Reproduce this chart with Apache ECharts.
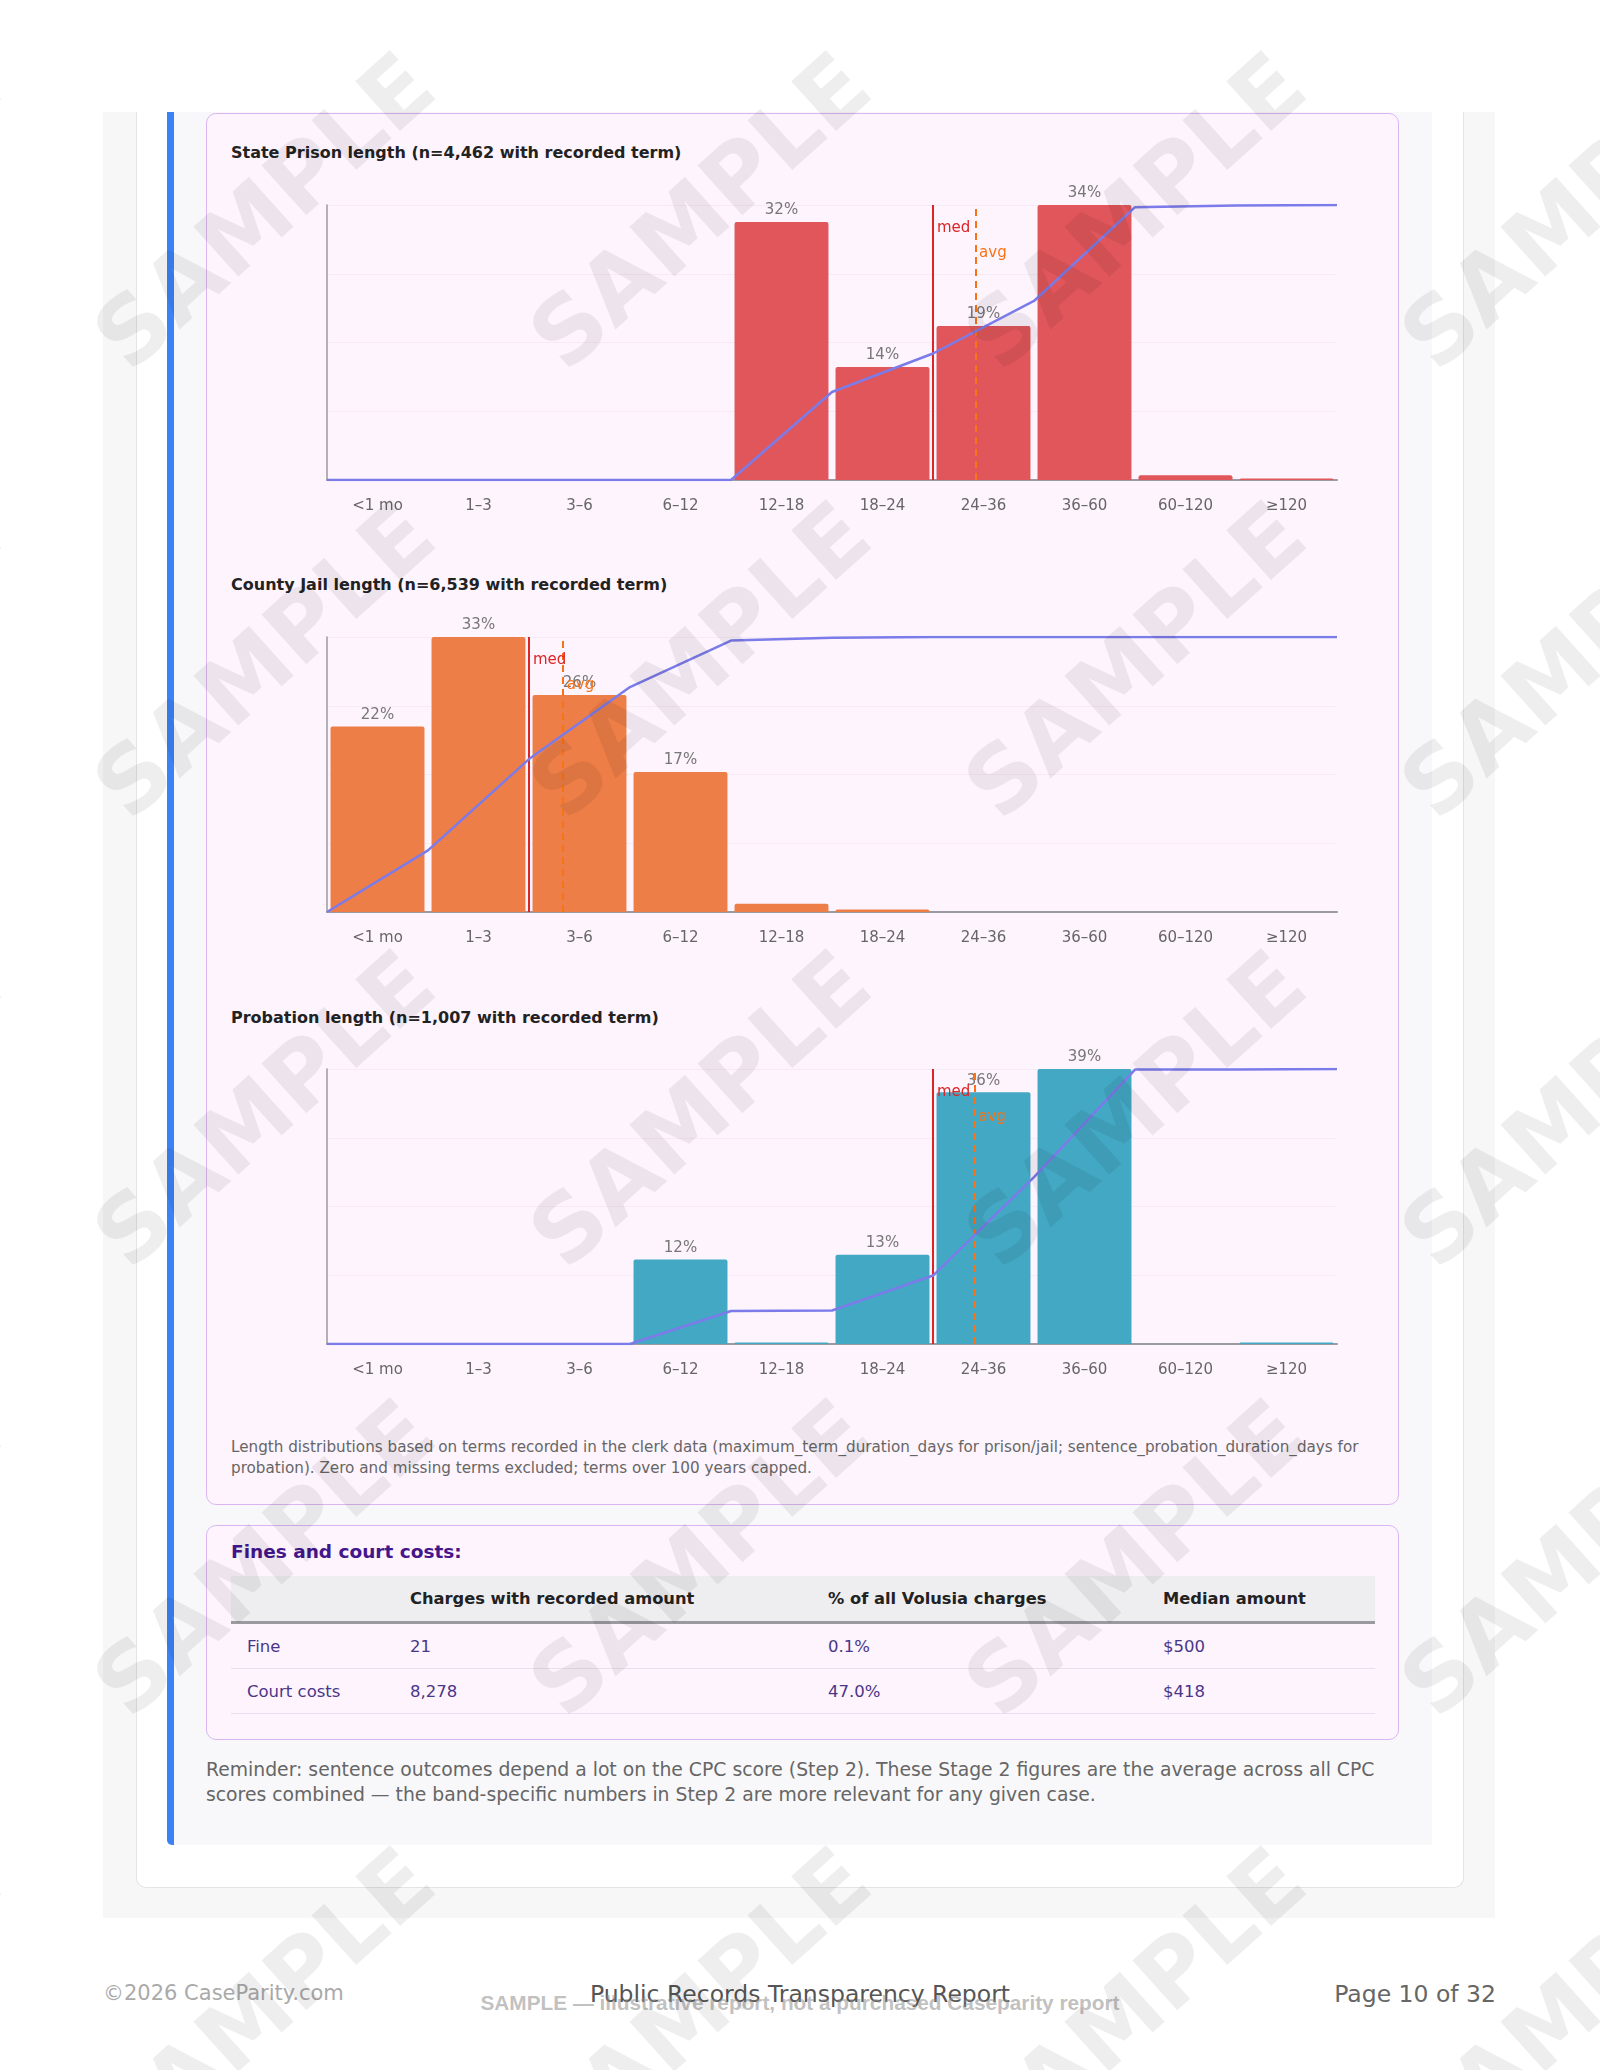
<!DOCTYPE html>
<html>
<head>
<meta charset="utf-8">
<script src="https://cdn.jsdelivr.net/npm/echarts@6/dist/echarts.min.js"></script>
<style>
body{margin:0;width:1600px;height:2070px;background:#fff;position:relative;overflow:hidden;font-family:"DejaVu Sans",sans-serif}
.a{position:absolute}
#panel{left:103px;top:112px;width:1392px;height:1806px;background:#f7f7f8}
#card{left:136px;top:112px;width:1326px;height:1775px;background:#fff;border:1px solid #e4e4e6;border-top:none;border-radius:0 0 10px 10px}
#section{left:167px;top:112px;width:1258px;height:1733px;background:#f8f8fa;border-left:7px solid #3b82f6;border-radius:0 0 0 5px}
.box{left:206px;width:1191px;background:#fdf4fd;border:1.5px solid #d9b6f2;border-radius:10px}
.ctitle{left:231px;font-size:16px;font-weight:bold;color:#222;white-space:nowrap}
.chart{left:206px;width:1194px;height:340px}
#note{left:231px;top:1437px;font-size:15.2px;line-height:21px;color:#666;white-space:nowrap}
#finesT{left:231px;top:1541px;font-size:18.5px;font-weight:bold;color:#44168c}
table{border-collapse:collapse;font-size:16.5px;table-layout:fixed}
th{background:#eeeef1;height:45px;padding:0 0 0 16px;text-align:left;font-size:16.3px;color:#222;border-bottom:3px solid #9a9aa0;white-space:nowrap}
td{height:44px;padding:0 0 0 16px;color:#4a3689;border-bottom:1px solid #eadfee}
#remind{left:206px;top:1757px;font-size:18.8px;line-height:25px;color:#666;white-space:nowrap}
.foot{top:1981px;font-size:21px;white-space:nowrap}
#wm{left:0;top:0;width:1600px;height:2070px;overflow:hidden;pointer-events:none;z-index:10}
.w{position:absolute;font-size:92px;font-weight:bold;color:rgba(0,0,0,0.065);transform:translate(-50%,-50%) rotate(-42deg);white-space:nowrap;font-family:"DejaVu Sans",sans-serif}
</style>
</head>
<body>
<div id="panel" class="a"></div>
<div id="card" class="a"></div>
<div id="section" class="a"></div>
<div class="a box" style="top:113px;height:1390px"></div>
<div class="a box" style="top:1525px;height:213px"></div>

<div class="a ctitle" style="top:143px">State Prison length (n=4,462 with recorded term)</div>
<div id="c1" class="a chart" style="top:185px"></div>
<div class="a ctitle" style="top:575px">County Jail length (n=6,539 with recorded term)</div>
<div id="c2" class="a chart" style="top:617px"></div>
<div class="a ctitle" style="top:1008px">Probation length (n=1,007 with recorded term)</div>
<div id="c3" class="a chart" style="top:1049px"></div>

<div id="note" class="a">Length distributions based on terms recorded in the clerk data (maximum_term_duration_days for prison/jail; sentence_probation_duration_days for<br>probation). Zero and missing terms excluded; terms over 100 years capped.</div>

<div id="finesT" class="a">Fines and court costs:</div>
<table id="tbl" class="a" style="left:231px;top:1576px;width:1144px">
<colgroup><col style="width:163px"><col style="width:418px"><col style="width:335px"><col style="width:228px"></colgroup>
<thead><tr id="thead"></tr></thead>
<tbody id="tbody"></tbody>
</table>

<div id="remind" class="a">Reminder: sentence outcomes depend a lot on the CPC score (Step 2). These Stage 2 figures are the average across all CPC<br>scores combined — the band-specific numbers in Step 2 are more relevant for any given case.</div>

<div class="a foot" style="left:103px;color:#aaa">©2026 CaseParity.com</div>
<div class="a foot" style="left:0;width:1600px;text-align:center;top:1980px;font-size:23.5px;color:#555">Public Records Transparency Report</div>
<div class="a foot" style="left:0;width:1600px;text-align:center;top:1991px;font-size:20.8px;font-weight:bold;font-family:'Liberation Sans',Arial,sans-serif;color:rgba(140,140,140,0.55)">SAMPLE — illustrative report, not a purchased Caseparity report</div>
<div class="a foot" style="right:104px;font-size:23.5px;color:#666;top:1980px">Page 10 of 32</div>

<div id="wm" class="a"></div>

<script>
// bins (months)
var cats = ['<1 mo', '1–3', '3–6', '6–12', '12–18', '18–24', '24–36', '36–60', '60–120', '≥120'];
var binEdges = [0, 1, 3, 6, 12, 18, 24, 36, 60, 120, 240];

// % of terms per bin
var prisonPct = [0, 0, 0, 0, 32.0, 14.0, 19.1, 34.1, 0.6, 0.2];
var jailPct = [22.4, 33.2, 26.2, 16.9, 1.0, 0.3, 0, 0, 0, 0];
var probationPct = [0, 0, 0, 12.0, 0.2, 12.7, 35.8, 39.1, 0, 0.2];

// median / average term, months
var prisonMedAvg = [24, 29.0];
var jailMedAvg = [3, 4.0];
var probationMedAvg = [24, 28.9];

// fines table
var tblHead = ['', 'Charges with recorded amount', '% of all Volusia charges', 'Median amount'];
var tblRows = [
  ['Fine', '21', '0.1%', '$500'],
  ['Court costs', '8,278', '47.0%', '$418']
];

document.getElementById('thead').innerHTML = tblHead.map(function (h) { return '<th>' + h + '</th>'; }).join('');
document.getElementById('tbody').innerHTML = tblRows.map(function (r) {
  return '<tr>' + r.map(function (c) { return '<td>' + c + '</td>'; }).join('') + '</tr>';
}).join('');

// months -> position on the bin scale
function toPos(m) {
  for (var i = 0; i < binEdges.length - 1; i++) {
    if (m < binEdges[i + 1]) return i + (m - binEdges[i]) / (binEdges[i + 1] - binEdges[i]);
  }
  return binEdges.length - 1;
}

function drawChart(id, pct, medAvg, color) {
  var cum = [[0, 0]], s = 0;
  for (var i = 0; i < pct.length; i++) { s += pct[i]; cum.push([i + 1, s]); }
  var medPos = toPos(medAvg[0]), avgPos = toPos(medAvg[1]);

  var chart = echarts.init(document.getElementById(id));
  chart.setOption({
    animation: false,
    textStyle: { fontFamily: 'DejaVu Sans' },
    grid: { left: 121, right: 63, top: 20, height: 275 },
    xAxis: [
      {
        type: 'category', data: cats, boundaryGap: true,
        axisLine: { lineStyle: { color: '#9a9aa0', width: 2 } },
        axisTick: { show: false },
        axisLabel: { color: '#666', fontSize: 15, margin: 19 }
      },
      { type: 'value', min: 0, max: 10, show: false }
    ],
    yAxis: [
      {
        type: 'value', min: 0, max: 'dataMax',
        axisLine: { show: true, lineStyle: { color: '#9a9aa0', width: 1.5 } },
        axisLabel: { show: false }, axisTick: { show: false }, splitLine: { show: false }
      },
      {
        type: 'value', min: 0, max: 100, interval: 25,
        axisLine: { show: false }, axisLabel: { show: false }, axisTick: { show: false },
        splitLine: { lineStyle: { color: 'rgba(120,60,140,0.05)', width: 1 } }
      }
    ],
    series: [
      {
        type: 'bar', data: pct, barCategoryGap: '7%',
        itemStyle: { color: color, borderRadius: [2, 2, 0, 0] },
        label: {
          show: true, position: 'top', distance: 4, color: '#777', fontSize: 15,
          formatter: function (p) { return p.value >= 3 ? Math.round(p.value) + '%' : ''; }
        }
      },
      {
        type: 'line', xAxisIndex: 1, yAxisIndex: 1, data: cum, z: 5,
        symbol: 'none', lineStyle: { color: '#7b7be9', width: 2.5 },
        markLine: {
          silent: true, symbol: ['none', 'none'], label: { show: false },
          data: [
            { xAxis: medPos, lineStyle: { color: '#dc2626', width: 2, type: 'solid' } },
            { xAxis: avgPos, lineStyle: { color: '#f97316', width: 2, type: [7, 5] } }
          ]
        },
        markPoint: {
          silent: true, symbol: 'circle', symbolSize: 0,
          data: [
            { coord: [medPos, 91.6], label: { show: true, formatter: 'med', position: 'right', distance: 4, color: '#dc2626', fontSize: 15 } },
            { coord: [avgPos, 82.5], label: { show: true, formatter: 'avg', position: 'right', distance: 4, color: '#f97316', fontSize: 15 } }
          ]
        }
      }
    ]
  });
}

drawChart('c1', prisonPct, prisonMedAvg, '#e0565b');
drawChart('c2', jailPct, jailMedAvg, '#ed7e47');
drawChart('c3', probationPct, probationMedAvg, '#43a8c4');

// watermark
var wm = document.getElementById('wm'), html = '';
var wx = [-170, 264, 700, 1135, 1571], wy = [211, 660, 1109, 1558, 2006];
wy.forEach(function (y) {
  wx.forEach(function (x) { html += '<div class="w" style="left:' + x + 'px;top:' + y + 'px">SAMPLE</div>'; });
});
wm.innerHTML = html;
</script>
</body>
</html>
